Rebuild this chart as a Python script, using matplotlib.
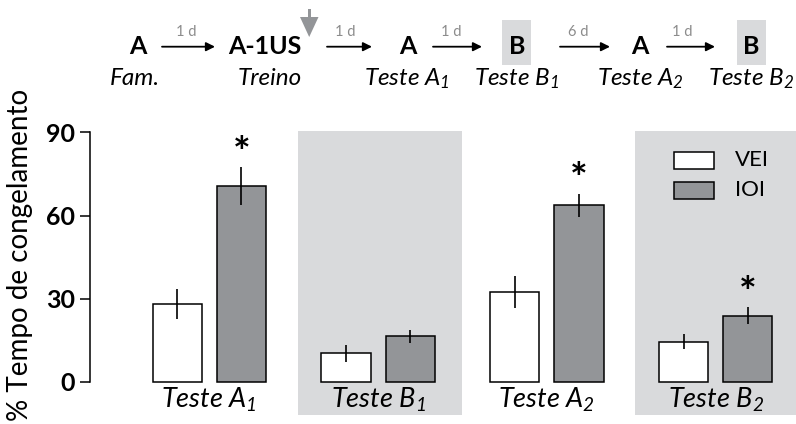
import matplotlib
matplotlib.use('Agg')
import matplotlib.pyplot as plt
import matplotlib.transforms as mtransforms
from matplotlib.patches import Rectangle, Polygon
import numpy as np

# ---- data -------------------------------------------------------------
groups = ['Teste A$_1$', 'Teste B$_1$', 'Teste A$_2$', 'Teste B$_2$']
context_b = [False, True, False, True]
vei_mean = [28.0, 10.2, 32.4, 14.4]
vei_sem = [5.5, 3.0, 5.8, 2.7]
ioi_mean = [70.6, 16.4, 63.7, 23.8]
ioi_sem = [6.8, 2.3, 4.1, 3.1]
significant = [True, False, True, True]
y_ticks = [0, 30, 60, 90]
series_names = ['VEI', 'IOI']

# experimental timeline
stage_ctx = ['A', 'A-1US', 'A', 'B', 'A', 'B']
stage_names = ['Fam.', 'Treino', 'Teste A$_1$', 'Teste B$_1$', 'Teste A$_2$', 'Teste B$_2$']
intervals = ['1 d', '1 d', '1 d', '6 d', '1 d']

# ---- style ------------------------------------------------------------
FONT = 'Lato'
plt.rcParams['font.family'] = [FONT, 'DejaVu Sans']
plt.rcParams['mathtext.fontset'] = 'custom'
plt.rcParams['mathtext.rm'] = FONT + ':italic'
plt.rcParams['mathtext.it'] = FONT + ':italic'
plt.rcParams['mathtext.bf'] = FONT + ':bold'

W, H = 796, 424
BAR_GREY = '#939598'
PANEL_GREY = '#d9dadc'

fig = plt.figure(figsize=(W / 100, H / 100), dpi=100)
# pixel transform with origin at the top-left corner
px = mtransforms.Affine2D().scale(1, -1).translate(0, H).scale(1 / W, 1 / H) + fig.transFigure

ax = fig.add_axes([90 / W, 1 - 415 / H, 1 - 90 / W, (415 - 131) / H])
ax.set_xlim(-0.707, 3.476)
ax.set_ylim(-12.0, 90.5)

x = np.arange(len(groups))
w = 0.292
off = 0.19

for i, b in enumerate(context_b):
    if b:
        ax.axvspan(i - 0.476, i + 0.5, color=PANEL_GREY, lw=0, zorder=0)

ax.bar(x - off, vei_mean, w, color='white', edgecolor='black', lw=1.1, zorder=3)
ax.bar(x + off, ioi_mean, w, color=BAR_GREY, edgecolor='black', lw=1.1, zorder=3)
ax.errorbar(x - off, vei_mean, yerr=vei_sem, fmt='none', ecolor='black',
            elinewidth=1.2, capsize=0, zorder=4)
ax.errorbar(x + off, ioi_mean, yerr=ioi_sem, fmt='none', ecolor='black',
            elinewidth=1.2, capsize=0, zorder=4)

for i, sig in enumerate(significant):
    if sig:
        ax.text(x[i] + off, ioi_mean[i] + ioi_sem[i] + 0.2, '*', ha='center',
                va='baseline', fontsize=30, fontweight='bold', zorder=5)

for i, g in enumerate(groups):
    ax.text(x[i], -9.4, g, ha='center', va='baseline', fontsize=19.5,
            style='italic', zorder=5)

for s in ['top', 'right', 'bottom']:
    ax.spines[s].set_visible(False)
ax.spines['left'].set_bounds(0, 90)
ax.spines['left'].set_linewidth(1.1)
ax.set_xticks([])
ax.set_yticks(y_ticks, labels=[str(t) for t in y_ticks], fontweight='bold',
              fontsize=18)
ax.tick_params(axis='y', length=7, width=1.1, pad=4)
ax.set_facecolor('none')

fig.text(20 / W, 1 - 255 / H, '% Tempo de congelamento', rotation=90,
         ha='center', va='center', fontsize=20)

# legend
leg_rows = [(152, 'white'), (182, BAR_GREY)]
for (top, fc), name in zip(leg_rows, series_names):
    fig.patches.append(Rectangle((674, top), 40, 17, transform=px, facecolor=fc,
                                 edgecolor='black', lw=1.1))
    fig.text(735, top + 8.5, name, transform=px, ha='left', va='center',
             fontsize=16)

# ---- timeline ---------------------------------------------------------
stage_x = [137.7, 265, 408, 516.7, 640, 751]
name_x = [135, 270, 407, 516.7, 640, 751]
arrow_x = [(162, 215), (327, 372), (433, 482), (560, 610), (667, 715)]
interval_x = [186, 345, 451, 578.5, 682]

for sx, ctx in zip(stage_x, stage_ctx):
    if ctx == 'B':
        fig.patches.append(Rectangle((sx - 14.5, 20), 29, 45, transform=px,
                                     facecolor=PANEL_GREY, lw=0))
    fig.text(sx, 53.5, ctx, transform=px, ha='center', va='baseline',
             fontsize=18, fontweight='bold')

for nx, nm in zip(name_x, stage_names):
    fig.text(nx, 85, nm, transform=px, ha='center', va='baseline',
             fontsize=17.5, style='italic')

for (x0, x1), ix, lab in zip(arrow_x, interval_x, intervals):
    ax.annotate('', xy=(x1, H - 46.7), xytext=(x0, H - 46.7),
                xycoords='figure pixels', textcoords='figure pixels',
                arrowprops=dict(arrowstyle='-|>', color='black', lw=1.3,
                                mutation_scale=13, shrinkA=0, shrinkB=0))
    fig.text(ix, 36, lab, transform=px, ha='center', va='baseline',
             fontsize=10.5, color='#8c8c8c')

# shock marker above training
fig.patches.append(Rectangle((308, 9), 2.5, 9, transform=px,
                             facecolor=BAR_GREY, lw=0))
fig.patches.append(Polygon([(300, 17), (318.5, 17), (309.2, 37)], closed=True,
                           transform=px, facecolor=BAR_GREY, lw=0))

fig.savefig('out.png', dpi=100)
